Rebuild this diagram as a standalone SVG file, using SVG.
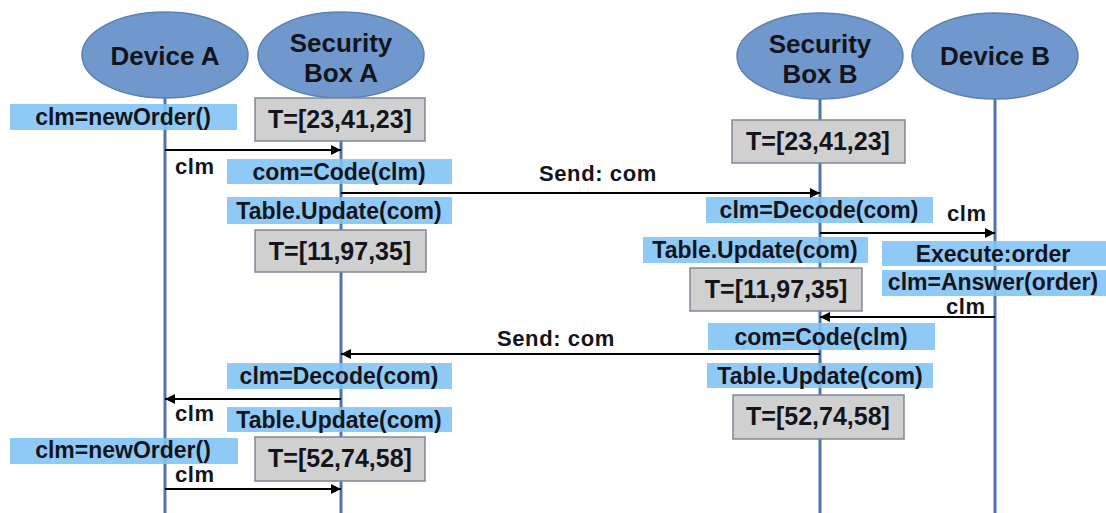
<svg xmlns="http://www.w3.org/2000/svg" width="1106" height="513" viewBox="0 0 1106 513">
<style>
text{font-family:"Liberation Sans",Arial,sans-serif;font-weight:bold;fill:#14141c}
.head{fill:#7098cc;stroke:#5a7fb4;stroke-width:1.5}
.ht{font-size:26px;text-anchor:middle}
.life{stroke:#4f74ad;stroke-width:3}
.lbl{fill:#7fc3f5;fill-opacity:0.88}
.lt{font-size:23px;text-anchor:middle}
.st{fill:#d0d0d0;stroke:#7d8896;stroke-width:1.5}
.stt{font-size:25px;text-anchor:middle}
.msg{stroke:#000;stroke-width:2;fill:none;marker-end:url(#ah)}
.mt{font-size:22px;letter-spacing:0.6px}
</style>
<defs>
<marker id="ah" viewBox="0 0 10 10" refX="10" refY="5" markerWidth="5" markerHeight="5" orient="auto" markerUnits="strokeWidth">
<path d="M0,0 L10,5 L0,10 z" fill="#000"/>
</marker>
</defs>
<rect width="1106" height="513" fill="#fff"/>
<g id="lifelines">
<line class="life" x1="165" y1="95" x2="165" y2="513"/>
<line class="life" x1="341" y1="95" x2="341" y2="513"/>
<line class="life" x1="820" y1="95" x2="820" y2="513"/>
<line class="life" x1="995" y1="95" x2="995" y2="513"/>
</g>
<g id="deviceA"><ellipse class="head" cx="165" cy="55" rx="83" ry="43"/><text class="ht" x="165" y="65">Device A</text></g>
<g id="secBoxA"><ellipse class="head" cx="341" cy="55" rx="83" ry="43"/><text class="ht" x="341" y="52">Security</text><text class="ht" x="341" y="82">Box A</text></g>
<g id="secBoxB"><ellipse class="head" cx="820" cy="56" rx="83" ry="43"/><text class="ht" x="820" y="53">Security</text><text class="ht" x="820" y="83">Box B</text></g>
<g id="deviceB"><ellipse class="head" cx="995" cy="56" rx="83" ry="43"/><text class="ht" x="995" y="65">Device B</text></g>

<g id="a-neworder1"><rect class="lbl" x="10" y="104" width="227" height="26"/><text class="lt" x="123" y="125">clm=newOrder()</text></g>
<g id="a-state1"><rect class="st" x="255" y="98" width="170" height="43"/><text class="stt" x="340" y="128">T=[23,41,23]</text></g>
<g id="a-code1"><rect class="lbl" x="227" y="159" width="225" height="25"/><text class="lt" x="339" y="180">com=Code(clm)</text></g>
<g id="a-update1"><rect class="lbl" x="227" y="197" width="225" height="27"/><text class="lt" x="339" y="219">Table.Update(com)</text></g>
<g id="a-state2"><rect class="st" x="255" y="230" width="171" height="42"/><text class="stt" x="340" y="260">T=[11,97,35]</text></g>

<g id="b-state1"><rect class="st" x="732" y="120" width="173" height="43"/><text class="stt" x="818" y="150">T=[23,41,23]</text></g>
<g id="b-decode1"><rect class="lbl" x="706" y="197" width="227" height="26"/><text class="lt" x="819" y="218">clm=Decode(com)</text></g>
<g id="b-update1"><rect class="lbl" x="643" y="237" width="225" height="26"/><text class="lt" x="755" y="258">Table.Update(com)</text></g>
<g id="devb-exec"><rect class="lbl" x="882" y="241" width="224" height="25"/><text class="lt" x="993" y="262">Execute:order</text></g>
<g id="b-state2"><rect class="st" x="690" y="268" width="172" height="43"/><text class="stt" x="776" y="298">T=[11,97,35]</text></g>
<g id="devb-answer"><rect class="lbl" x="882" y="270" width="224" height="26"/><text class="lt" x="993" y="290">clm=Answer(order)</text></g>
<g id="b-code1"><rect class="lbl" x="708" y="323" width="227" height="27"/><text class="lt" x="821" y="345">com=Code(clm)</text></g>
<g id="b-update2"><rect class="lbl" x="707" y="363" width="226" height="25"/><text class="lt" x="820" y="384">Table.Update(com)</text></g>
<g id="b-state3"><rect class="st" x="733" y="395" width="171" height="44"/><text class="stt" x="818" y="425">T=[52,74,58]</text></g>

<g id="a-decode1"><rect class="lbl" x="227" y="363" width="225" height="26"/><text class="lt" x="339" y="384">clm=Decode(com)</text></g>
<g id="a-update2"><rect class="lbl" x="227" y="407" width="225" height="25"/><text class="lt" x="339" y="428">Table.Update(com)</text></g>
<g id="a-neworder2"><rect class="lbl" x="10" y="438" width="228" height="26"/><text class="lt" x="123" y="458">clm=newOrder()</text></g>
<g id="a-state3"><rect class="st" x="255" y="437" width="170" height="44"/><text class="stt" x="340" y="467">T=[52,74,58]</text></g>

<g id="connectors">
<line class="msg" x1="165" y1="150" x2="341" y2="150"/>
<text class="mt" x="175" y="174">clm</text>
<line class="msg" x1="341" y1="193" x2="820" y2="193"/>
<text class="mt" x="539" y="181">Send: com</text>
<line class="msg" x1="820" y1="233" x2="995" y2="233"/>
<text class="mt" x="947" y="221">clm</text>
<line class="msg" x1="995" y1="317" x2="820" y2="317"/>
<text class="mt" x="946" y="314">clm</text>
<line class="msg" x1="820" y1="354" x2="341" y2="354"/>
<text class="mt" x="497" y="346">Send: com</text>
<line class="msg" x1="341" y1="399" x2="165" y2="399"/>
<text class="mt" x="175" y="421">clm</text>
<line class="msg" x1="165" y1="489" x2="341" y2="489"/>
<text class="mt" x="175" y="482">clm</text>
</g>
</svg>
